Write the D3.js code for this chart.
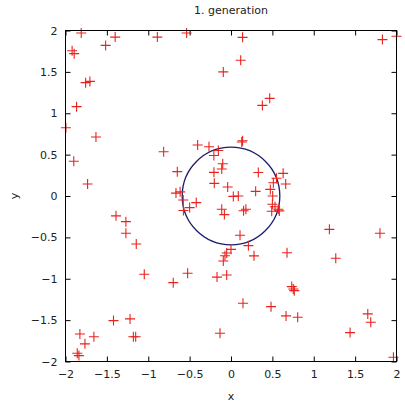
<!DOCTYPE html>
<html>
<head>
<meta charset="utf-8">
<script src="https://cdn.jsdelivr.net/npm/d3@7"></script>
<style>
html,body{margin:0;padding:0;background:#fff;}
text{font-family:"DejaVu Sans",sans-serif;}
</style>
</head>
<body>
<svg id="chart" width="405" height="405"></svg>
<script>
const title = "1. generation";
const xLabel = "x";
const yLabel = "y";
const xTicks = [-2, -1.5, -1, -0.5, 0, 0.5, 1, 1.5, 2];
const yTicks = [-2, -1.5, -1, -0.5, 0, 0.5, 1, 1.5, 2];
const circleRadius = 0.59;
const px = [-1.81,-1.40,-1.515,-0.89,-0.536,-1.92,-1.895,-1.757,-1.705,-1.866,-1.995,-1.632,-0.093,-0.814,-1.90,-1.733,-0.403,-0.266,-0.153,-0.207,-0.10,-0.112,-0.206,-0.649,-0.202,-0.04,-0.665,-0.615,-0.577,-0.42,-0.50,-0.575,-0.112,-0.08,
0.14,0.117,1.83,2.0,0.468,0.379,0.14,0.13,0.33,0.63,0.55,0.512,0.661,0.475,0.298,0.028,0.088,0.504,0.50,0.532,0.572,0.584,0.492,0.18,0.152,
0.109,0.21,0.0,-0.052,-0.073,0.278,0.677,-0.093,-1.39,-1.27,-1.27,-1.145,-1.048,-0.698,-0.524,-0.169,-0.052,-1.42,-1.22,-1.18,-1.152,-0.133,-1.826,-1.657,-1.765,-1.858,-1.838,1.189,1.266,1.80,0.734,0.753,0.765,0.145,0.484,0.665,0.806,1.653,1.689,1.439,1.963];
const py = [1.97,1.92,1.82,1.92,1.97,1.755,1.72,1.37,1.385,1.08,0.825,0.713,1.50,0.535,0.42,0.145,0.616,0.596,0.55,0.49,0.39,0.326,0.286,0.294,0.153,0.108,0.035,0.05,-0.048,-0.08,-0.14,-0.175,-0.16,-0.225,
1.917,1.64,1.89,1.93,1.18,1.095,0.668,0.652,0.284,0.274,0.215,0.16,0.145,0.08,0.056,-0.005,0.0,0.0,-0.10,-0.13,-0.16,-0.18,-0.185,-0.16,-0.178,
-0.475,-0.60,-0.645,-0.688,-0.722,-0.723,-0.685,-0.785,-0.24,-0.31,-0.45,-0.58,-0.946,-1.047,-0.934,-0.98,-0.954,-1.506,-1.485,-1.70,-1.70,-1.658,-1.667,-1.70,-1.787,-1.90,-1.929,-0.403,-0.753,-0.45,-1.095,-1.123,-1.144,-1.296,-1.337,-1.449,-1.465,-1.425,-1.526,-1.651,-1.948];

const svg = d3.select("#chart");
const L = 65.5, R = 396.5, T = 30.5, B = 361.5;
const x = d3.scaleLinear().domain([-2, 2]).range([L, R]);
const y = d3.scaleLinear().domain([-2, 2]).range([B, T]);

const tickColor = "#000";
const labColor = "#222";

// ticks (inward, mirrored)
const g = svg.append("g");
g.append("g").attr("transform", `translate(0,${B})`)
  .call(d3.axisBottom(x).tickValues(xTicks).tickSizeInner(-5).tickSizeOuter(0).tickPadding(9).tickFormat(d3.format("")))
  .call(s => { s.select(".domain").remove(); s.selectAll("text").attr("font-size", 11).attr("fill", labColor).attr("font-family", "DejaVu Sans"); });
g.append("g").attr("transform", `translate(0,${T})`)
  .call(d3.axisTop(x).tickValues(xTicks).tickSizeInner(-5).tickSizeOuter(0).tickFormat(""))
  .call(s => s.select(".domain").remove());
g.append("g").attr("transform", `translate(${L},0)`)
  .call(d3.axisLeft(y).tickValues(yTicks).tickSizeInner(-5).tickSizeOuter(0).tickPadding(8).tickFormat(d3.format("")))
  .call(s => { s.select(".domain").remove(); s.selectAll("text").attr("font-size", 11).attr("fill", labColor).attr("font-family", "DejaVu Sans"); });
g.append("g").attr("transform", `translate(${R},0)`)
  .call(d3.axisRight(y).tickValues(yTicks).tickSizeInner(-5).tickSizeOuter(0).tickFormat(""))
  .call(s => s.select(".domain").remove());
g.selectAll(".tick line").attr("stroke", tickColor);

// circle
svg.append("ellipse")
  .attr("cx", x(0)).attr("cy", y(0))
  .attr("rx", x(circleRadius) - x(0)).attr("ry", y(0) - y(circleRadius))
  .attr("fill", "none").attr("stroke", "#1c1c6e").attr("stroke-width", 1.3);

// points
const pts = px.map((v, i) => [v, py[i]]);
const s = 5;
svg.append("g").selectAll("path").data(pts).join("path")
  .attr("d", d => `M${x(d[0]) - s},${y(d[1])}H${x(d[0]) + s}M${x(d[0])},${y(d[1]) - s}V${y(d[1]) + s}`)
  .attr("stroke", "#e8231e").attr("stroke-width", 1.1).attr("fill", "none");

// frame
svg.append("rect").attr("x", L).attr("y", T).attr("width", R - L).attr("height", B - T)
  .attr("fill", "none").attr("stroke", "#000").attr("stroke-width", 1);

// labels
svg.append("text").attr("x", (L + R) / 2).attr("y", 14).attr("text-anchor", "middle")
  .attr("font-size", 11).attr("fill", labColor).text(title);
svg.append("text").attr("x", (L + R) / 2).attr("y", 400).attr("text-anchor", "middle")
  .attr("font-size", 11).attr("fill", labColor).text(xLabel);
svg.append("text").attr("transform", `translate(18,${(T + B) / 2}) rotate(-90)`).attr("text-anchor", "middle")
  .attr("font-size", 11).attr("fill", labColor).text(yLabel);
</script>
</body>
</html>
